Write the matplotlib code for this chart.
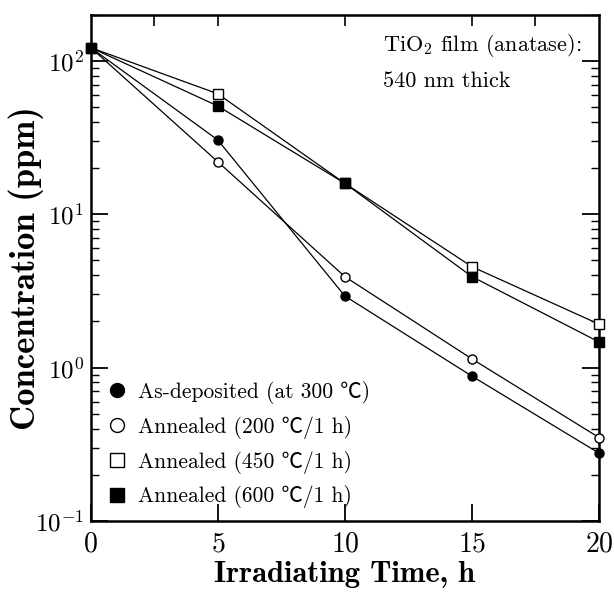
import numpy as np
import matplotlib
matplotlib.use("Agg")
import matplotlib.pyplot as plt
from matplotlib.ticker import LogLocator, NullFormatter

plt.rcParams['font.family'] = ['cmr10', 'Noto Sans CJK JP']
plt.rcParams['mathtext.fontset'] = 'cm'
plt.rcParams['axes.formatter.use_mathtext'] = True

# data
time_h = [0, 5, 10, 15, 20]
as_deposited = [122, 30.5, 2.93, 0.88, 0.277]
annealed_200 = [122, 22.0, 3.92, 1.14, 0.35]
annealed_450 = [122, 61.0, 15.9, 4.55, 1.92]
annealed_600 = [122, 50.8, 15.9, 3.92, 1.47]

labels = ["As-deposited (at 300 \u2103)",
          "Annealed (200 \u2103/1 h)",
          "Annealed (450 \u2103/1 h)",
          "Annealed (600 \u2103/1 h)"]

fig = plt.figure(figsize=(6.14, 5.92), dpi=100)
ax = fig.add_axes([0.1477, 0.1199, 0.9756 - 0.1477, 0.9752 - 0.1199])

styles = [dict(marker='o', mfc='black'),
          dict(marker='o', mfc='white'),
          dict(marker='s', mfc='white'),
          dict(marker='s', mfc='black')]
series = [as_deposited, annealed_200, annealed_450, annealed_600]

for y, st in zip(series, styles):
    ax.plot(time_h, y, color='black', lw=0.9, ms=6.5, mec='black',
            mew=1.0, clip_on=False, zorder=3, **st)

ax.set_yscale('log')
ax.set_xlim(0, 20)
ax.set_ylim(0.1, 200)
ax.set_xticks([0, 5, 10, 15, 20])
ax.yaxis.set_major_locator(LogLocator(base=10, numticks=10))
ax.yaxis.set_minor_locator(LogLocator(base=10, subs=np.arange(2, 10), numticks=20))
ax.yaxis.set_minor_formatter(NullFormatter())

ax.tick_params(axis='both', which='major', direction='in',
               width=1.3, length=12, right=True, top=False, pad=5)
ax.tick_params(axis='y', which='major', labelsize=18)
ax.tick_params(axis='y', which='minor', direction='in', width=1.0, length=6,
               right=True)
ax.tick_params(axis='x', which='major', labelsize=20, pad=7)
for sp in ax.spines.values():
    sp.set_linewidth(1.8)

# top ticks
top = ax.secondary_xaxis('top')
top.set_xticks([2.5, 5, 10, 15, 17.5])
top.tick_params(direction='in', length=8, width=1.2, labeltop=False)

ax.set_xlabel("Irradiating Time, h", family='cmb10', fontsize=22, labelpad=3)
ax.set_ylabel("Concentration (ppm)", family='cmb10', fontsize=25)
ax.yaxis.set_label_coords(-0.092, 0.5)

ax.text(0.576, 0.94, r"TiO$_2$ film (anatase):", transform=ax.transAxes,
        fontsize=16, va='center', ha='left')
ax.text(0.576, 0.868, "540 nm thick", transform=ax.transAxes,
        fontsize=16, va='center', ha='left')

handles = [plt.Line2D([], [], ls='none', color='black', ms=10, mec='black',
                      mew=1.0, **st) for st in styles]
leg = ax.legend(handles, labels, loc='lower left', frameon=False,
                handlelength=0.8, handletextpad=0.6, labelspacing=0.55,
                borderaxespad=0.3, bbox_to_anchor=(0.005, -0.005),
                prop={'family': ['cmr10', 'Noto Sans CJK JP'], 'size': 15.5})

fig.savefig("out.png", dpi=100)
